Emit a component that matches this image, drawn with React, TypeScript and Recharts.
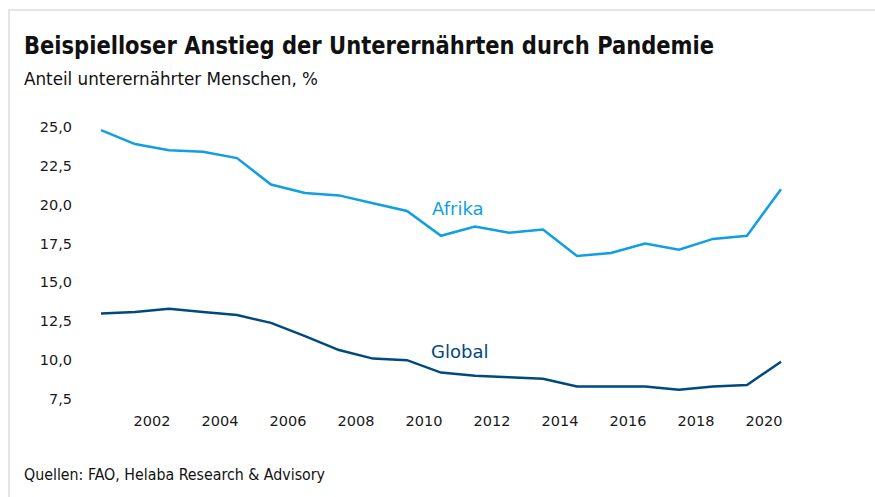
import React from 'react';
import { LineChart, Line, XAxis, YAxis } from 'recharts';

const years = [2001, 2002, 2003, 2004, 2005, 2006, 2007, 2008, 2009, 2010, 2011, 2012, 2013, 2014, 2015, 2016, 2017, 2018, 2019, 2020, 2021];
const afrika = [24.8, 23.9, 23.5, 23.4, 23.0, 21.3, 20.75, 20.6, 20.1, 19.6, 18.0, 18.6, 18.2, 18.4, 16.7, 16.9, 17.5, 17.1, 17.8, 18.0, 21.0];
const global = [13.0, 13.1, 13.3, 13.1, 12.9, 12.4, 11.55, 10.65, 10.1, 10.0, 9.2, 9.0, 8.9, 8.8, 8.3, 8.3, 8.3, 8.1, 8.3, 8.4, 9.9];
const yTicks = [7.5, 10, 12.5, 15, 17.5, 20, 22.5, 25];
const xLabels = [2002, 2004, 2006, 2008, 2010, 2012, 2014, 2016, 2018, 2020];

const data = years.map((y, i) => ({ year: y, afrika: afrika[i], global: global[i] }));

const AFRIKA = '#0f9fe2';
const GLOBAL = '#00497f';
const tickFont = '"DejaVu Sans", Verdana, sans-serif';
const headFont = '"Liberation Sans Narrow", "DejaVu Sans Condensed", "Open Sans", sans-serif';

const fmt = (v: number) => v.toFixed(1).replace('.', ',');

const LeftTick = ({ x, y, payload }: any) => (
  <text x={x - 29} y={y} dy={5} textAnchor="end" fontFamily={tickFont} fontSize={14.5} fill="#1a1a1a">
    {fmt(payload.value)}
  </text>
);

const RightTick = ({ x, y, payload }: any) => (
  <text x={x + 61} y={y} dy={5} textAnchor="end" fontFamily={tickFont} fontSize={14.5} fill="#1a1a1a">
    {fmt(payload.value)}
  </text>
);

const BottomTick = ({ x, y, payload }: any) => (
  <text x={x} y={y} dy={25} textAnchor="middle" fontFamily={tickFont} fontSize={14.5} fill="#1a1a1a">
    {Math.floor(payload.value)}
  </text>
);

export default function App() {
  return (
    <div style={{ position: 'absolute', left: 0, top: 0, width: 875, height: 497, background: '#fff' }}>
      <div
        style={{
          position: 'absolute',
          left: 8,
          top: 9,
          width: 867,
          height: 488,
          boxSizing: 'border-box',
          borderTop: '2px solid #e4e4e4',
          borderLeft: '2px solid #e4e4e4',
        }}
      />
      <LineChart width={875} height={497} data={data} margin={{ top: 127, right: 0, bottom: 68, left: 0 }}>
        <XAxis
          dataKey="year"
          type="number"
          domain={[2001, 2021]}
          ticks={xLabels.map((y) => y + 0.5)}
          axisLine={false}
          tickLine={false}
          tickSize={0}
          height={30}
          tick={<BottomTick />}
          interval={0}
        />
        <YAxis
          yAxisId="l"
          orientation="left"
          domain={[7.5, 25]}
          ticks={yTicks}
          width={101}
          axisLine={false}
          tickLine={false}
          tickSize={0}
          tickMargin={0}
          tick={<LeftTick />}
          interval={0}
        />
        <YAxis
          yAxisId="r"
          orientation="right"
          domain={[7.5, 25]}
          ticks={yTicks}
          width={94}
          axisLine={false}
          tickLine={false}
          tickSize={0}
          tickMargin={0}
          tick={<RightTick />}
          interval={0}
        />
        <Line yAxisId="l" type="linear" dataKey="afrika" stroke={AFRIKA} strokeWidth={2.5} dot={false} isAnimationActive={false} />
        <Line yAxisId="l" type="linear" dataKey="global" stroke={GLOBAL} strokeWidth={2.5} dot={false} isAnimationActive={false} />
      </LineChart>
      <svg width={875} height={497} style={{ position: 'absolute', left: 0, top: 0, pointerEvents: 'none' }}>
        <text x={24} y={54} fontFamily={headFont} fontWeight="bold" fontSize={25} fill="#111" textLength={690} lengthAdjust="spacingAndGlyphs">
          Beispielloser Anstieg der Unterernährten durch Pandemie
        </text>
        <text x={24} y={85} fontFamily={headFont} fontSize={18} fill="#111" textLength={294} lengthAdjust="spacingAndGlyphs">
          Anteil unterernährter Menschen, %
        </text>
        <text x={432} y={215} fontFamily={tickFont} fontSize={18} fill={AFRIKA}>
          Afrika
        </text>
        <text x={431} y={358} fontFamily={tickFont} fontSize={18} fill={GLOBAL}>
          Global
        </text>
        <text x={24} y={480} fontFamily={headFont} fontSize={16} fill="#111" textLength={301} lengthAdjust="spacingAndGlyphs">
          Quellen: FAO, Helaba Research &amp; Advisory
        </text>
      </svg>
    </div>
  );
}
